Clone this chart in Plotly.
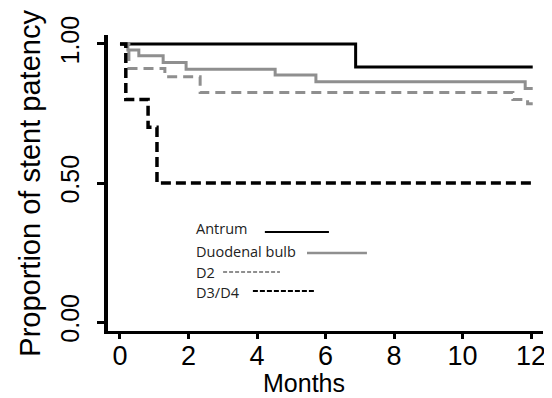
import plotly.graph_objects as go

# Kaplan-Meier step data (months, proportion)
antrum_t = [0, 6.88, 12.05]
antrum_s = [1.0, 0.917, 0.917]

bulb_t = [0, 0.23, 0.55, 1.26, 1.93, 4.53, 5.72, 11.83, 12.05]
bulb_s = [1.0, 0.978, 0.957, 0.933, 0.909, 0.888, 0.864, 0.84, 0.84]

d2_t = [0, 0.26, 1.31, 2.34, 11.47, 11.9, 12.05]
d2_s = [1.0, 0.912, 0.882, 0.825, 0.80, 0.785, 0.785]

d34_t = [0, 0.17, 0.82, 1.08, 12.05]
d34_s = [1.0, 0.80, 0.70, 0.50, 0.50]

x_ticks = [0, 2, 4, 6, 8, 10, 12]
y_ticks = [0.0, 0.5, 1.0]
y_ticklabels = ["0.00", "0.50", "1.00"]

legend_names = ["Antrum", "Duodenal bulb", "D2", "D3/D4"]
legend_text_y = [0.335, 0.255, 0.18, 0.108]
legend_line_x = [(4.23, 6.10), (5.46, 7.21), (3.01, 4.67), (3.88, 5.69)]
legend_line_y = [0.324, 0.248, 0.18, 0.112]

GRAY = "#8f8f8f"
styles = [
    dict(color="black", width=3),
    dict(color=GRAY, width=3),
    dict(color=GRAY, width=3, dash="10px,6px"),
    dict(color="black", width=3.5, dash="10px,5px"),
]
legend_styles = [
    dict(color="black", width=2),
    dict(color=GRAY, width=2.5),
    dict(color=GRAY, width=2, dash="4px,2px"),
    dict(color="black", width=2, dash="5px,2px"),
]

fig = go.Figure()
for (t, s), st, nm in zip([(antrum_t, antrum_s), (bulb_t, bulb_s), (d2_t, d2_s), (d34_t, d34_s)],
                          styles, legend_names):
    fig.add_trace(go.Scatter(x=t, y=s, mode="lines", line=dict(shape="hv", **st),
                             name=nm, showlegend=False, hoverinfo="skip"))

# in-plot legend
for nm, ty, (x0, x1), ly, st in zip(legend_names, legend_text_y, legend_line_x, legend_line_y, legend_styles):
    fig.add_annotation(x=2.16, y=ty, xref="x", yref="y", text=nm, showarrow=False,
                       xanchor="left", yanchor="middle",
                       font=dict(family="Open Sans", size=14.5, color="#222"))
    fig.add_shape(type="line", xref="x", yref="y", x0=x0, x1=x1, y0=ly, y1=ly, line=st)

# page body has an 8px default margin, so the figure is sized/shifted to compensate
fig.update_layout(
    width=544, height=390,
    margin=dict(l=100, r=9, t=27, b=67, autoexpand=False),
    paper_bgcolor="white", plot_bgcolor="white",
    font=dict(family="Liberation Sans, Arial", color="black"),
    xaxis=dict(range=[-0.35, 12.35], tickvals=x_ticks, showgrid=False, zeroline=False,
               showline=True, linecolor="black", linewidth=3,
               ticks="outside", ticklen=5, tickwidth=3, tickcolor="black",
               tickfont=dict(size=27), ticklabelstandoff=-6),
    yaxis=dict(range=[-0.032, 1.032], tickvals=y_ticks, ticktext=y_ticklabels,
               showgrid=False, zeroline=False,
               showline=True, linecolor="black", linewidth=4,
               ticks="outside", ticklen=7, tickwidth=3, tickcolor="black",
               tickfont=dict(size=25), tickangle=-90, ticklabelstandoff=8),
)
# axis titles
fig.add_annotation(text="Months", xref="paper", yref="paper", x=0.45, y=-0.174,
                   xanchor="center", yanchor="middle", showarrow=False,
                   font=dict(size=25))
fig.add_annotation(text="Proportion of stent patency", xref="paper", yref="paper",
                   x=-0.18, y=0.5, xanchor="center", yanchor="middle", textangle=-90,
                   showarrow=False, font=dict(size=29))

fig.write_html("out.html")
